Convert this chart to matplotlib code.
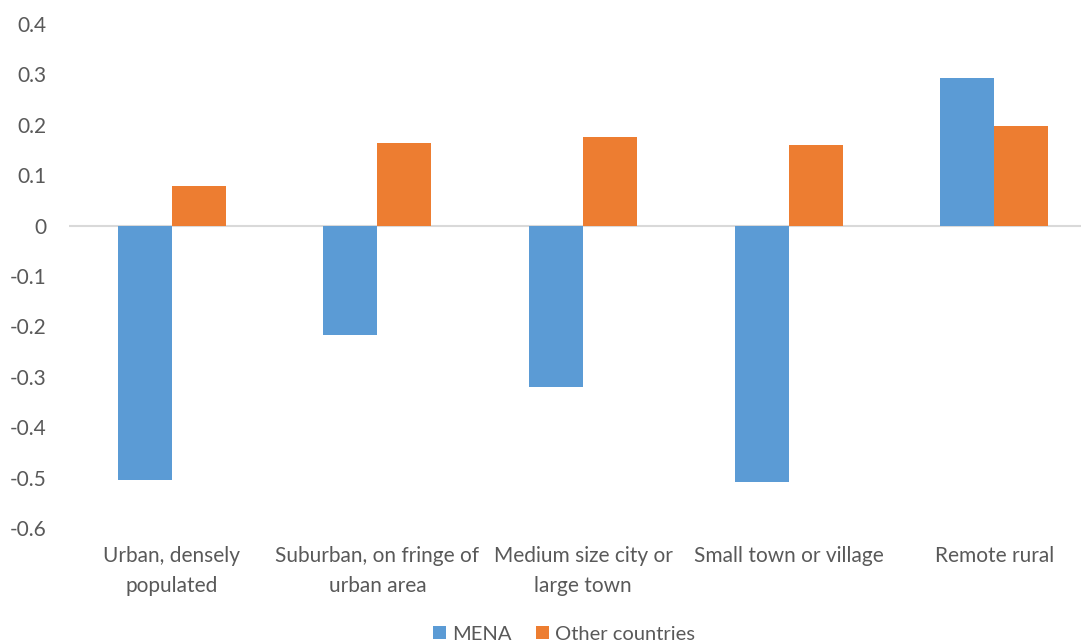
import matplotlib.pyplot as plt
import numpy as np

# Bar chart: MENA vs other countries by type of place of residence
categories = ["Urban, densely\npopulated", "Suburban, on fringe of\nurban area",
              "Medium size city or\nlarge town", "Small town or village", "Remote rural"]
mena = [-0.505, -0.218, -0.32, -0.508, 0.292]
other = [0.079, 0.163, 0.175, 0.159, 0.198]
series_names = ["MENA", "Other countries"]
y_ticks = [-0.6, -0.5, -0.4, -0.3, -0.2, -0.1, 0, 0.1, 0.2, 0.3, 0.4]

plt.rcParams['font.family'] = ['Lato', 'DejaVu Sans']
text_color = '#595959'

fig = plt.figure(figsize=(10.81, 6.43), dpi=100)
W, H = 1081, 643
ax = fig.add_axes([69 / W, 1 - 528 / H, (1097 - 69) / W, (528 - 24) / H])

x = np.arange(len(categories))
w = 0.263
ax.bar(x - w / 2, mena, w, color='#5B9BD5', label=series_names[0], zorder=2)
ax.bar(x + w / 2, other, w, color='#ED7D31', label=series_names[1], zorder=2)

ax.set_xlim(-0.5, len(categories) - 0.5)
ax.set_ylim(-0.6, 0.4)
ax.set_yticks(y_ticks)
ax.set_yticklabels([("%g" % v) for v in y_ticks])
ax.axhline(0, color='#D9D9D9', lw=1.5, zorder=1)

for s in ax.spines.values():
    s.set_visible(False)
ax.tick_params(axis='both', length=0, colors=text_color, labelsize=15)
ax.tick_params(axis='y', pad=16)
ax.set_xticks(x)
ax.set_xticklabels(categories, linespacing=1.6)
ax.tick_params(axis='x', pad=13)

ax.legend(loc='center', bbox_to_anchor=(564 / W, 1 - 634 / H), bbox_transform=fig.transFigure,
          ncol=2, frameon=False, fontsize=14.5, handlelength=0.65, handleheight=0.65,
          handletextpad=0.3, columnspacing=1.2, labelcolor=text_color)

fig.savefig('out.png', dpi=100)
